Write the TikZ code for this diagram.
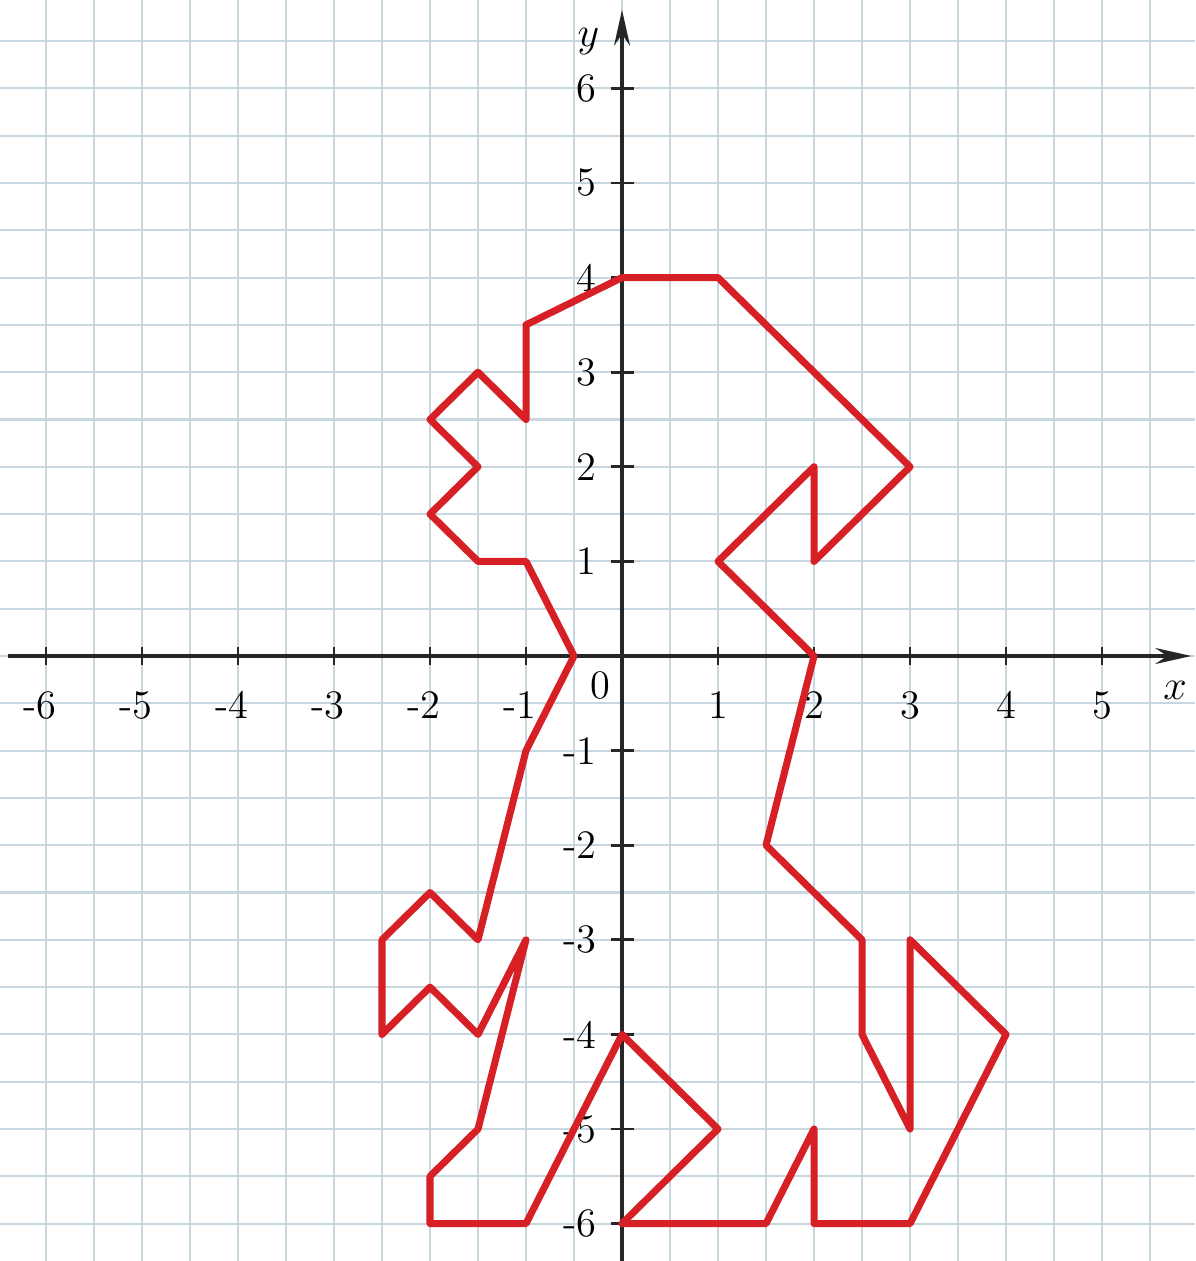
\documentclass[tikz,border=0pt]{standalone}
\usetikzlibrary{arrows.meta}
\definecolor{gridcol}{RGB}{200,214,224}
\definecolor{figred}{RGB}{214,32,38}
\tikzset{
  gridline/.style={draw=gridcol, line width=0.6pt},
  axisline/.style={draw=black!85, line width=0.9pt},
  axisarrow/.style={axisline, -{Stealth[length=0.36cm,width=0.16cm]}},
  tickmark/.style={draw=black!85, line width=0.8pt},
  figline/.style={draw=figred, line width=2pt, line join=round},
  lbl/.style={font=\fontsize{11.5}{13}\selectfont, inner sep=0pt}
}
\begin{document}
\begin{tikzpicture}[x=0.96cm,y=0.946cm]
\useasboundingbox (-6.479,-6.395) rectangle (5.969,6.934);
\fill[white] (-6.479,-6.395) rectangle (5.969,6.934);
% grid
\foreach \i in {-13,...,12} {\draw[gridline] (\i/2,-6.395) -- (\i/2,6.934);}
\foreach \j in {-13,...,13} {\draw[gridline] (-6.479,\j/2) -- (5.969,\j/2);}
% axes
\coordinate (xs) at (-6.4,0);
\coordinate (xe) at (5.93,0);
\coordinate (ys) at (0,-6.4);
\coordinate (ye) at (0,6.83);
\draw[axisarrow] (xs) -- (xe);
\draw[axisarrow] (ys) -- (ye);
% ticks and labels
\foreach \i in {-6,...,-1} {
  \draw[tickmark] (\i,-0.1) -- (\i,0.1);
  \node[lbl] (xl\i) at (\i-0.06,-0.52) {-\the\numexpr-\i\relax};
}
\foreach \i in {1,...,5} {
  \draw[tickmark] (\i,-0.1) -- (\i,0.1);
  \node[lbl] (xl\i) at (\i,-0.52) {\i};
}
\foreach \j in {1,...,6} {
  \draw[tickmark] (-0.12,\j) -- (0.12,\j);
  \node[lbl, anchor=east] (yl\j) at (-0.26,\j) {\j};
}
\foreach \j in {-6,...,-1} {
  \draw[tickmark] (-0.12,\j) -- (0.12,\j);
  \node[lbl, anchor=east] (yl\j) at (-0.26,\j) {-\the\numexpr-\j\relax};
}
\node[lbl] (o) at (-0.23,-0.31) {0};
\node[lbl] (xlab) at (5.76,-0.36) {$x$};
\node[lbl] (ylab) at (-0.35,6.49) {$y$};
% figure
\draw[figline] (0,4) -- (1,4) -- (3,2) -- (2,1) -- (2,2) -- (1,1) -- (2,0)
  -- (1.5,-2) -- (2.5,-3) -- (2.5,-4) -- (3,-5) -- (3,-3) -- (4,-4)
  -- (3,-6) -- (2,-6) -- (2,-5) -- (1.5,-6) -- (0,-6) -- (1,-5) -- (0,-4)
  -- (-1,-6) -- (-2,-6) -- (-2,-5.5) -- (-1.5,-5) -- (-1,-3) -- (-1.5,-4)
  -- (-2,-3.5) -- (-2.5,-4) -- (-2.5,-3) -- (-2,-2.5) -- (-1.5,-3)
  -- (-1,-1) -- (-0.5,0) -- (-1,1) -- (-1.5,1) -- (-2,1.5) -- (-1.5,2)
  -- (-2,2.5) -- (-1.5,3) -- (-1,2.5) -- (-1,3.5) -- cycle;
\end{tikzpicture}
\end{document}
